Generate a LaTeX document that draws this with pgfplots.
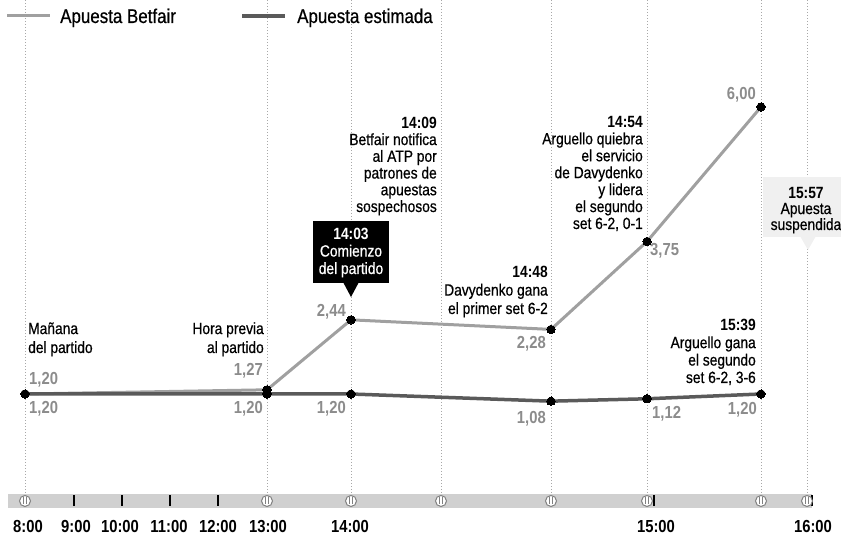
\documentclass[border=0pt]{standalone}
\usepackage{pgfplots}
\pgfplotsset{compat=1.18}
\usepackage{fontspec}
\setmainfont[FakeStretch=0.85, UprightFeatures={FakeBold=0.6}]{Liberation Sans}

\definecolor{betfair}{HTML}{A0A0A0}
\definecolor{estim}{HTML}{5A5A5A}
\definecolor{vals}{HTML}{8C8C8C}
\definecolor{guide}{HTML}{A8A8A8}
\definecolor{barg}{HTML}{D0D0D0}

% positions on the (non linear) time line, in px from the left
% 8:00 -> 25, 13:00 -> 267, 14:03 -> 351, 14:48 -> 551, 14:54 -> 647, 15:39 -> 761

\tikzset{
  note/.style={font=\fontsize{16.3}{17}\selectfont, inner sep=0pt, text=black},
  val/.style={font=\fontsize{17.5}{18}\selectfont\bfseries, inner sep=0pt, text=vals},
  hour/.style={font=\fontsize{17.5}{18}\selectfont\bfseries, inner sep=0pt, anchor=base},
}

\begin{document}
\begin{tikzpicture}

% background: guides and time bar (px frame, y downwards)
\begin{scope}[x=1bp, y=-1bp, yshift=537bp]
  \foreach \t in {25,267,351,441,551,647,761,807}
    \draw[guide, line width=1bp, dash pattern=on 1.3bp off 1.7bp] (\t,0) -- (\t,494);
  \fill[barg] (8,494) rectangle (812,508);
  \foreach \t in {74,122,170,218,654,812}
    \draw[black, line width=1.6bp] (\t,495.5) -- (\t,506.5);
  \foreach \t in {25,267,351,441,551,647,761,807} {
    \draw[gray, line width=1bp, fill=white] (\t,501) circle (5.5);
    \draw[gray, line width=0.8bp] (\t-1.5,497.5) -- (\t-1.5,504.5) (\t+1.5,497.5) -- (\t+1.5,504.5);
  }
\end{scope}

\begin{axis}[
  scale only axis, width=841bp, height=537bp,
  xmin=0, xmax=841, ymin=-1.1913, ymax=7.7886,
  hide axis, clip=false,
]
\addplot[betfair, line width=3bp, mark=*, mark size=4.2bp,
  mark options={draw=black, fill=black, line width=0pt}]
  coordinates {(25,1.20) (267,1.27) (351,2.44) (551,2.28) (647,3.75) (761,6.00)};
\addplot[estim, line width=3.5bp, mark=*, mark size=4.2bp,
  mark options={draw=black, fill=black, line width=0pt}]
  coordinates {(25,1.20) (267,1.20) (351,1.20) (551,1.08) (647,1.12) (761,1.20)};
\end{axis}

% labels and notes (multi-line nodes are anchored on their last line)
\begin{scope}[x=1bp, y=-1bp, yshift=537bp]
  % legend
  \draw[betfair, line width=3bp] (7,16) -- (50,16);
  \node[note, anchor=base west, font=\fontsize{20}{21}\selectfont] at (60,23) {Apuesta Betfair};
  \draw[estim, line width=3.5bp] (242,16) -- (285,16);
  \node[note, anchor=base west, font=\fontsize{20}{21}\selectfont] at (297,23) {Apuesta estimada};

  % values
  \node[val, anchor=base west] at (29,385) {1,20};
  \node[val, anchor=base west] at (29,414) {1,20};
  \node[val, anchor=base east] at (263,376) {1,27};
  \node[val, anchor=base east] at (263,414) {1,20};
  \node[val, anchor=base east] at (346,317) {2,44};
  \node[val, anchor=base east] at (346,414) {1,20};
  \node[val, anchor=base east] at (546,349) {2,28};
  \node[val, anchor=base east] at (546,424) {1,08};
  \node[val, anchor=base west] at (650,256) {3,75};
  \node[val, anchor=base west] at (652,419) {1,12};
  \node[val, anchor=base east] at (756,100) {6,00};
  \node[val, anchor=base east] at (757,415) {1,20};

  % notes
  \node[note, anchor=base west, align=left, font=\fontsize{16.3}{19}\selectfont] at (28,353)
    {Mañana\\del partido};
  \node[note, anchor=base east, align=right, font=\fontsize{16.3}{19}\selectfont] at (264,353)
    {Hora previa\\al partido};
  \node[note, anchor=base east, align=right, font=\fontsize{16.3}{16.8}\selectfont] at (437,212)
    {\textbf{14:09}\\Betfair notifica\\al ATP por\\patrones de\\apuestas\\sospechosos};
  \node[note, anchor=base east, align=right, font=\fontsize{16.3}{18.5}\selectfont] at (548,314)
    {\textbf{14:48}\\Davydenko gana\\el primer set 6-2};
  \node[note, anchor=base east, align=right, font=\fontsize{16.3}{17}\selectfont] at (643,229)
    {\textbf{14:54}\\Arguello quiebra\\el servicio\\de Davydenko\\y lidera\\el segundo\\set 6-2, 0-1};
  \node[note, anchor=base east, align=right, font=\fontsize{16.3}{17.5}\selectfont] at (756,383)
    {\textbf{15:39}\\Arguello gana\\el segundo\\set 6-2, 3-6};

  % 14:03 box
  \fill[black] (313,221) rectangle (389,283);
  \fill[black] (343,282) -- (359,282) -- (351,297) -- cycle;
  \node[note, text=white, anchor=base, align=center, font=\fontsize{16.3}{17.5}\selectfont] at (351,274)
    {\textbf{14:03}\\Comienzo\\del partido};

  % 15:57 box
  \fill[black!6] (763,177) rectangle (841,237);
  \fill[black!6] (800,236) -- (816,236) -- (808,250) -- cycle;
  \node[note, anchor=base, align=center, font=\fontsize{16.3}{16}\selectfont] at (806,230)
    {\textbf{15:57}\\Apuesta\\suspendida};

  % hours
  \foreach \x/\h in {28/8:00, 76/9:00, 120/10:00, 169/11:00, 218/12:00, 268/13:00, 350/14:00, 656/15:00, 813/16:00}
    \node[hour] at (\x,533) {\h};
\end{scope}

\pgfresetboundingbox
\useasboundingbox (0,0) rectangle (841bp,537bp);
\end{tikzpicture}
\end{document}
